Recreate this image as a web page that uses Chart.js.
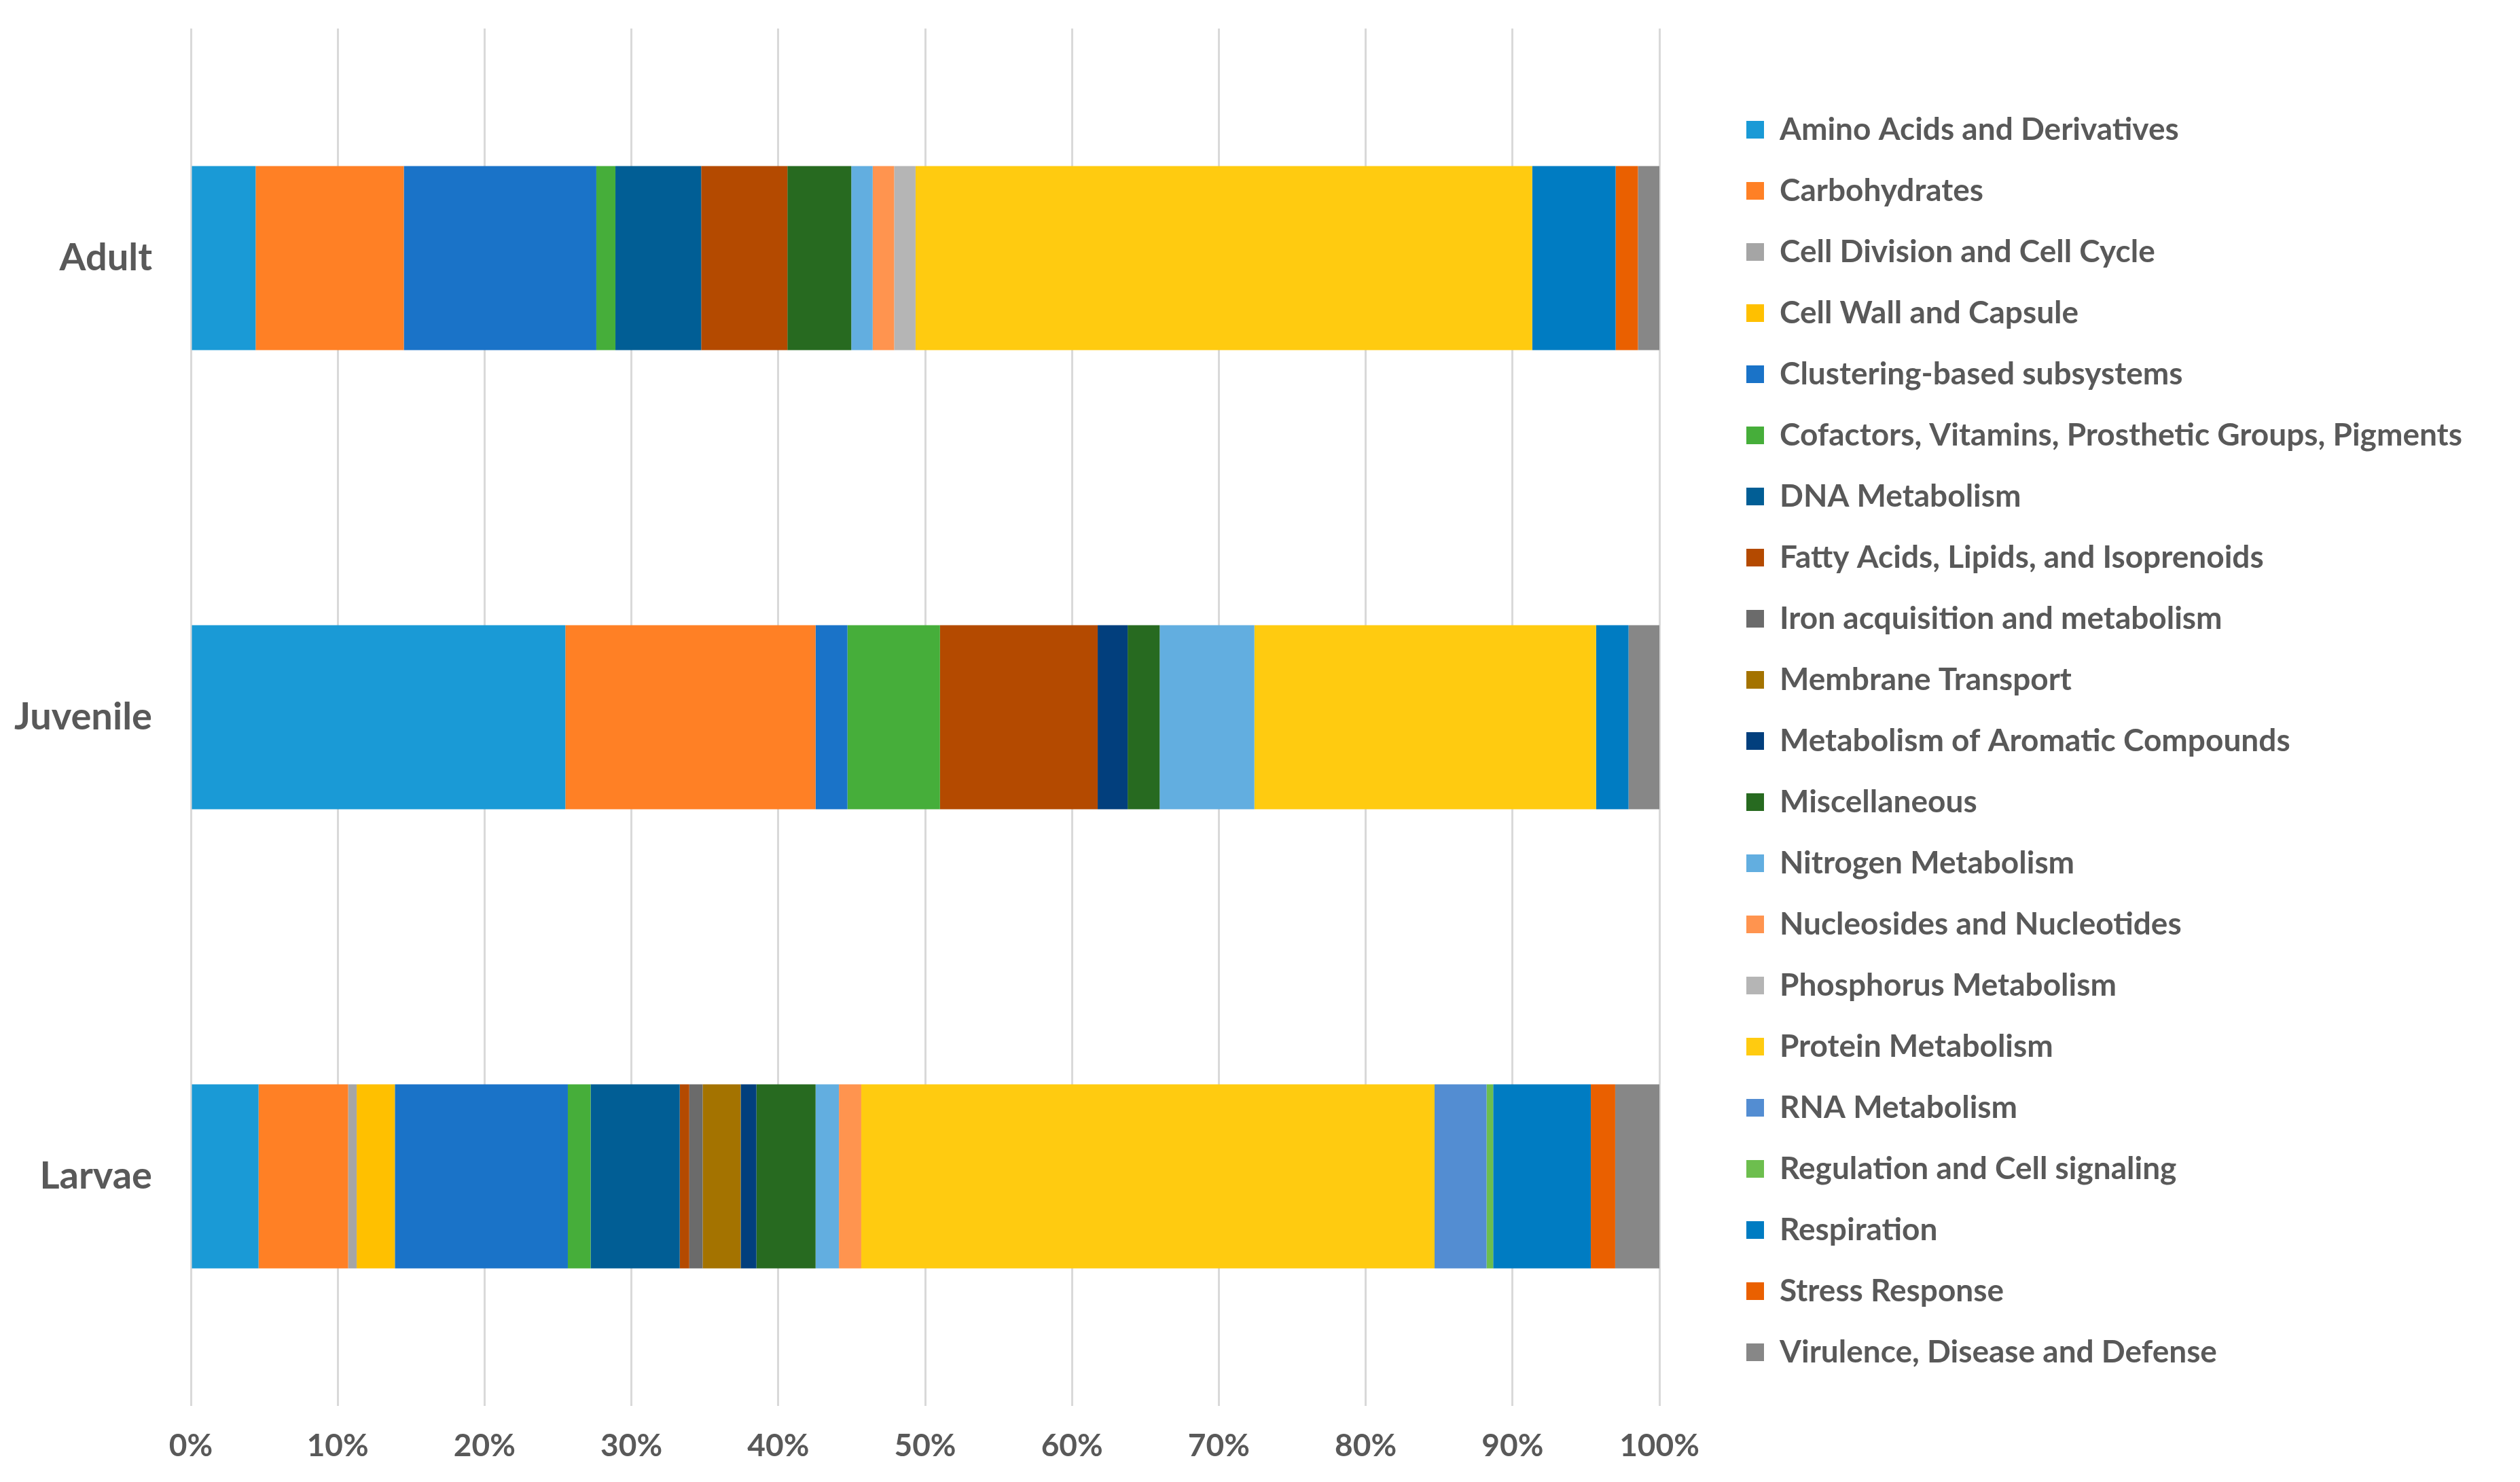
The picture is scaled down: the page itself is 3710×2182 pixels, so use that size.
<!DOCTYPE html>
<html>
<head>
<meta charset="utf-8">
<script src="https://cdn.jsdelivr.net/npm/chart.js@4"></script>
<style>
html,body{margin:0;padding:0;background:#ffffff;}
canvas{display:block;}
</style>
</head>
<body>
<canvas id="c" width="3710" height="2182"></canvas>
<script>
// ---------------- DATA ----------------
const stages = ['Adult', 'Juvenile', 'Larvae'];

const subsystems = [
  'Amino Acids and Derivatives',
  'Carbohydrates',
  'Cell Division and Cell Cycle',
  'Cell Wall and Capsule',
  'Clustering-based subsystems',
  'Cofactors, Vitamins, Prosthetic Groups, Pigments',
  'DNA Metabolism',
  'Fatty Acids, Lipids, and Isoprenoids',
  'Iron acquisition and metabolism',
  'Membrane Transport',
  'Metabolism of Aromatic Compounds',
  'Miscellaneous',
  'Nitrogen Metabolism',
  'Nucleosides and Nucleotides',
  'Phosphorus Metabolism',
  'Protein Metabolism',
  'RNA Metabolism',
  'Regulation and Cell signaling',
  'Respiration',
  'Stress Response',
  'Virulence, Disease and Defense'
];

// percentage share of each subsystem, same order as subsystems
const adult    = [4.41, 10.09, 0,    0,    13.11, 1.30, 5.84, 5.87, 0,    0,    0,    4.35, 1.46, 1.46, 1.46, 41.99, 0,    0,    5.68, 1.52, 1.46];
const juvenile = [25.50, 17.04, 0,   0,    2.17,  6.30, 0,    10.74, 0,   0,    2.04, 2.18, 6.45, 0,    0,    23.27, 0,    0,    2.21, 0,    2.10];
const larvae   = [4.61, 6.10, 0.58, 2.60, 11.78, 1.55, 6.07, 0.65, 0.91, 2.59, 1.07, 4.03, 1.59, 1.52, 0,    39.04, 3.54, 0.45, 6.65, 1.66, 3.01];

const xTickLabels = ['0%','10%','20%','30%','40%','50%','60%','70%','80%','90%','100%'];

// ---------------- STYLE ----------------
const palette = [
  '#1A9AD6', '#FF8025', '#A5A5A5', '#FFC000', '#1A73C8', '#46AE3A', '#015E95',
  '#B44A00', '#6B6B6B', '#A47300', '#023F7D', '#276A20', '#62AEE0', '#FF944F',
  '#B5B5B5', '#FFCB10', '#538DD2', '#6DBE4E', '#007CC2', '#EA6000', '#878787'
];

const W = 3710, H = 2182;
const PLOT_LEFT = 281, PLOT_RIGHT = 2443, PLOT_TOP = 42, PLOT_BOTTOM = 2070;
const LEG_BOX_X = 2571, LEG_STEP = 90.0;
const LEG_FONT = 46, LEG_BOX = 26;
const TEXT_COLOR = '#595959';
const FONT = 'Lato';

const legPad = LEG_STEP - LEG_FONT;
const mctx = document.createElement('canvas').getContext('2d');
mctx.font = 'bold ' + LEG_FONT + 'px ' + FONT;
const maxTextW = Math.max(...subsystems.map(s => mctx.measureText(s).width));
const legendLeft = LEG_BOX_X - legPad;
const gapW = legendLeft - PLOT_RIGHT;
const legendW = legPad + LEG_BOX + LEG_FONT / 2 + maxTextW + 10;
const padRight = Math.max(0, W - legendLeft - legendW);
const xAxisH = H - PLOT_BOTTOM;

const seriesByStage = [adult, juvenile, larvae];
const datasets = subsystems.map((name, i) => ({
  label: name,
  data: seriesByStage.map(arr => arr[i]),
  backgroundColor: palette[i],
  borderColor: palette[i],
  borderWidth: 0,
  barPercentage: 0.401,
  categoryPercentage: 1.0
}));

function noPad(s) {
  s.paddingTop = 0; s.paddingBottom = 0;
}

new Chart(document.getElementById('c'), {
  type: 'bar',
  data: { labels: stages, datasets: datasets },
  options: {
    indexAxis: 'y',
    responsive: false,
    animation: false,
    devicePixelRatio: 1,
    layout: { padding: { left: 0, top: 0, right: padRight, bottom: 0 } },
    scales: {
      x: {
        stacked: true,
        min: 0,
        max: 100,
        ticks: {
          stepSize: 10,
          padding: 32,
          color: TEXT_COLOR,
          font: { family: FONT, size: 46, weight: 'bold' },
          callback: (v) => xTickLabels[Math.round(v / 10)]
        },
        grid: { color: '#D9D9D9', lineWidth: 3, drawTicks: false },
        border: { display: false },
        afterFit: (s) => { s.height = xAxisH; }
      },
      topGap: {
        type: 'linear',
        axis: 'x',
        position: 'top',
        ticks: { display: false },
        grid: { display: false, drawTicks: false },
        border: { display: false },
        afterFit: (s) => { s.height = PLOT_TOP; }
      },
      y: {
        stacked: true,
        ticks: {
          padding: 57,
          color: TEXT_COLOR,
          font: { family: FONT, size: 56, weight: 'bold' }
        },
        grid: { display: false, drawTicks: false },
        border: { display: false },
        afterFit: (s) => { s.width = PLOT_LEFT; noPad(s); }
      },
      gap: {
        type: 'category',
        position: 'right',
        ticks: { display: false },
        grid: { display: false, drawTicks: false },
        border: { display: false },
        afterFit: (s) => { s.width = gapW; noPad(s); }
      }
    },
    plugins: {
      legend: {
        position: 'right',
        align: 'center',
        maxWidth: 3000,
        labels: {
          boxWidth: LEG_BOX,
          boxHeight: LEG_BOX,
          padding: legPad,
          color: TEXT_COLOR,
          font: { family: FONT, size: LEG_FONT, weight: 'bold' }
        }
      },
      tooltip: { enabled: false }
    }
  }
});
</script>
</body>
</html>
